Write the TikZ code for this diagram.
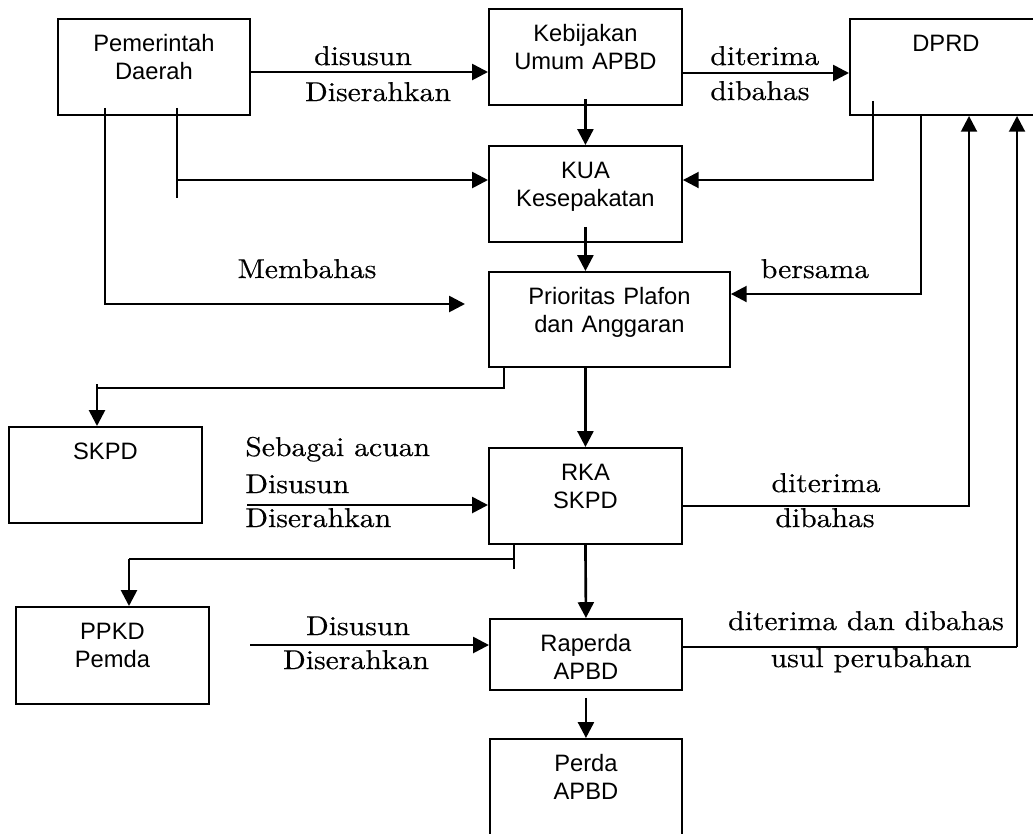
\documentclass[tikz,border=0pt]{standalone}
\usepackage{fontspec}
\setsansfont{Liberation Sans}
\newfontfamily\ketfont{lmroman10-regular.otf}[FakeStretch=1.09, FakeBold=0.4]
\usetikzlibrary{arrows.meta}

\begin{document}
\begin{tikzpicture}[x=0.02cm, y=-0.02cm,
        kotak/.style={draw, line width=1.1pt, inner sep=0pt, anchor=north west, align=center,
            font=\sffamily\fontsize{13.5}{15.4}\selectfont, text height=0.66cm},
        ket/.style={font=\ketfont\fontsize{15.5}{18}\selectfont, anchor=base, inner sep=0pt},
        panah/.style={line width=1.5pt, -{Triangle[length=9pt,width=9pt]}},
        garis/.style={line width=1.5pt},
        tipis/.style={line width=1pt}]
            \useasboundingbox (0,0) rectangle (1033,833);
            \clip (0,0) rectangle (1033,833);
            \node[kotak, text width=3.84cm, text depth=1.26cm] (pd) at (57,18) {Pemerintah\\Daerah};
            \node[kotak, text width=3.86cm, text depth=1.26cm] (kebijakan) at (488,8) {Kebijakan\\Umum APBD};
            \node[kotak, text width=3.84cm, text depth=1.26cm] (dprd) at (849,18) {DPRD};
            \node[kotak, text width=3.86cm, text depth=1.26cm] (kua) at (488,145) {KUA\\Kesepakatan};
            \node[kotak, text width=4.82cm, text depth=1.24cm] (ppa) at (488,271) {Prioritas Plafon\\dan Anggaran};
            \node[kotak, text width=3.86cm, text depth=1.26cm] (skpd) at (8,426) {SKPD};
            \node[kotak, text width=3.86cm, text depth=1.26cm] (rka) at (488,447) {RKA\\SKPD};
            \node[kotak, text width=3.86cm, text depth=1.28cm] (ppkd) at (15,606) {PPKD\\Pemda};
            \node[kotak, text width=3.84cm, text depth=0.76cm] (raperda) at (489,618) {Raperda\\APBD};
            \node[kotak, text width=3.84cm, text depth=1.74cm] (perda) at (489,738) {Perda\\APBD};

            \node[ket] (k1) at (363,65) {disusun};
            \node[ket] (k2) at (378,101) {Diserahkan};
            \node[ket, anchor=base west] (k3) at (710,65) {diterima};
            \node[ket, anchor=base west] (k4) at (710,100) {dibahas};
            \node[ket] (k5) at (307,278) {Membahas};
            \node[ket] (k6) at (815,278) {bersama};
            \node[ket, anchor=base west] (k7) at (245,456) {Sebagai acuan};
            \node[ket, anchor=base west] (k8) at (245,493) {Disusun};
            \node[ket, anchor=base west] (k9) at (245,527) {Diserahkan};
            \node[ket] (k10) at (826,492) {diterima};
            \node[ket] (k11) at (825,527) {dibahas};
            \node[ket] (k12) at (358,635) {Disusun};
            \node[ket] (k13) at (356,669) {Diserahkan};
            \node[ket] (k14) at (866,630) {diterima dan dibahas};
            \node[ket] (k15) at (871,667) {usul perubahan};

            \coordinate (p1) at (177,198);
            \coordinate (p2) at (465,304);
            \coordinate (s1) at (97,384);
            \coordinate (r1) at (247,505);
            \coordinate (q1) at (514,569);
            \coordinate (q2) at (129,559);
            \coordinate (r2) at (250,645);
            \coordinate (r3) at (1017,647);

            \draw[panah] (pd.east |- 0,72) -- (kebijakan.west |- 0,72);
            \draw[panah] (kebijakan.east |- 0,73) -- (dprd.west |- 0,73);
            \draw[panah] ([yshift=0.14cm]kebijakan.south) -- (kua.north);
            \draw[garis] ([yshift=0.16cm]pd.south -| p1) -- (p1);
            \draw[panah] (p1 |- 0,180) -- (kua.west |- 0,180);
            \draw[panah] ([yshift=0.16cm]pd.south -| 105,0) |- (p2);
            \draw[panah] ([yshift=0.32cm]kua.south) -- (kua.south |- ppa.north);
            \draw[panah] ([yshift=0.3cm]dprd.south -| 873,0) |- (kua.east |- 0,180);
            \draw[panah] (dprd.south -| 921,0) |- (ppa.east |- 0,294);
            \draw[panah] (rka.north |- ppa.south) -- (rka.north);
            \draw[tipis] (ppa.south -| 504,0) |- (s1 |- 0,388);
            \draw[panah] (s1) -- (skpd.north -| s1);
            \draw[panah] (r1) -- (rka.west |- r1);
            \draw[panah] (rka.east |- 0,506) -| (dprd.south -| 969,0);
            \draw[panah] (rka.south) -- (raperda.north);
            \draw[tipis] (rka.south -| q1) -- (q1);
            \draw[tipis] (q1 |- q2) -- (q2);
            \draw[panah] (q2) -- (ppkd.north -| q2);
            \draw[panah] (r2) -- (raperda.west |- r2);
            \draw[tipis] (raperda.east |- r3) -- (r3);
            \draw[panah] (r3) -- (dprd.south -| r3);
            \draw[panah] ([yshift=-0.14cm]raperda.south) -- (perda.north);
        \end{tikzpicture}
\end{document}
